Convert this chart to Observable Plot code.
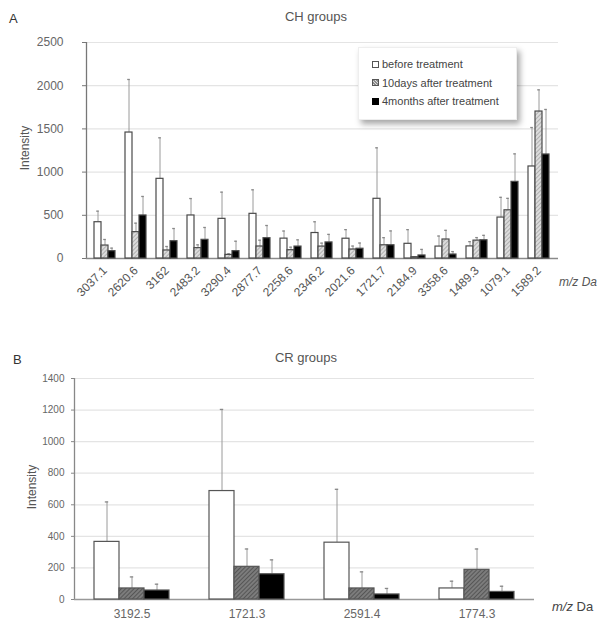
<!DOCTYPE html>
<html><head><meta charset="utf-8">
<script src="https://cdn.jsdelivr.net/npm/d3@7"></script>
<script src="https://cdn.jsdelivr.net/npm/@observablehq/plot@0.6"></script>
<style>
body{margin:0;background:#fff;font-family:"Liberation Sans",Arial,sans-serif;}
#wrap{position:relative;width:612px;height:628px;overflow:hidden;background:#fff;}
#wrap svg{position:absolute;left:0;}
.t{position:absolute;color:#444;white-space:nowrap;line-height:1;}
.legend{position:absolute;left:358px;top:47px;width:157px;height:71px;background:#fff;border:1px solid #eee;box-shadow:3px 4px 6px rgba(0,0,0,0.35);font-size:11px;color:#444;}
.legend .row{position:absolute;left:13px;height:12px;line-height:12px;}
.legend .sw{display:inline-block;width:7px;height:7px;border:1px solid #555;vertical-align:middle;margin-right:3px;margin-top:-2px;box-sizing:border-box;}
</style></head><body>
<div id="wrap"></div>
<script>
// ---------- data ----------
const series = ["before treatment", "10days after treatment", "4months after treatment"];

const catsA = ["3037.1","2620.6","3162","2483.2","3290.4","2877.7","2258.6","2346.2","2021.6","1721.7","2184.9","3358.6","1489.3","1079.1","1589.2"];
const beforeA = [420,1458,922,498,459,517,230,295,229,691,170,138,140,474,1065];
const beforeSdA = [128,614,475,196,309,278,88,130,105,590,164,122,55,234,451];
const tenDaysA = [150,305,93,120,42,139,96,138,104,153,15,220,207,558,1701];
const tenDaysSdA = [70,104,46,38,12,73,35,40,40,88,0,106,35,138,251];
const fourMonthsA = [85,498,200,216,85,235,138,186,113,153,35,46,211,887,1204];
const fourMonthsSdA = [35,220,147,143,115,147,78,93,66,166,70,34,57,324,521];
const yTicksA = [0,500,1000,1500,2000,2500];

const catsB = ["3192.5","1721.3","2591.4","1774.3"];
const beforeB = [365,687,360,70];
const beforeSdB = [253,517,338,46];
const tenDaysB = [70,207,70,188];
const tenDaysSdB = [73,113,105,132];
const fourMonthsB = [57,160,32,48];
const fourMonthsSdB = [40,91,38,36];
const yTicksB = [0,200,400,600,800,1000,1200,1400];

// ---------- build tables ----------
function table(cats, vals, sds) {
  return cats.flatMap((c, i) => series.map((s, j) => ({cat: c, series: s, value: vals[j][i], sd: sds[j][i]})));
}
const dataA = table(catsA, [beforeA, tenDaysA, fourMonthsA], [beforeSdA, tenDaysSdA, fourMonthsSdA]);
const dataB = table(catsB, [beforeB, tenDaysB, fourMonthsB], [beforeSdB, tenDaysSdB, fourMonthsSdB]);

const fillsA = {"before treatment": "#ffffff", "10days after treatment": "url(#hatchA)", "4months after treatment": "#000000"};
const fillsB = {"before treatment": "#ffffff", "10days after treatment": "url(#hatchB)", "4months after treatment": "#000000"};

const wrap = document.getElementById("wrap");
const font = '"Liberation Sans", Arial, sans-serif';

function addPattern(svg, id, bg, line, size, lw) {
  let defs = d3.select(svg).select("defs");
  if (defs.empty()) defs = d3.select(svg).insert("defs", ":first-child");
  const p = defs.append("pattern").attr("id", id).attr("patternUnits", "userSpaceOnUse")
    .attr("width", size).attr("height", size).attr("patternTransform", "rotate(45)");
  p.append("rect").attr("width", size).attr("height", size).attr("fill", bg);
  p.append("line").attr("x1", 0).attr("y1", 0).attr("x2", 0).attr("y2", size)
    .attr("stroke", line).attr("stroke-width", lw);
}

function panel(opts) {
  const {data, cats, fills, yTicks, ymax, top, height, mt, mb, ml, mr, pin, pout,
         tickFont, xFont, xColor, barStroke, capInset, yTickSize, yTickPad, xTickPad, rotate, axisColor, baseColor, patternId, pat} = opts;
  // background: grid, axis, baseline
  const bg = Plot.plot({
    width: 612, height, marginTop: mt, marginBottom: mb, marginLeft: ml, marginRight: mr,
    style: {background: "transparent", fontFamily: font, fontSize: tickFont + "px", color: "#666"},
    x: {domain: [0, 1], axis: null},
    y: {domain: [0, ymax], axis: null},
    marks: [
      Plot.ruleY(yTicks.filter(d => d > 0), {stroke: "#e4e4e4", strokeWidth: 1.2}),
      Plot.axisY({ticks: yTicks, tickSize: yTickSize, tickPadding: yTickPad, tickFormat: d => String(d), label: null, stroke: axisColor, fill: "#666"}),
      Plot.ruleX([0], {y1: 0, y2: ymax, stroke: axisColor, strokeWidth: 1.3}),
      Plot.ruleY([0], {stroke: baseColor, strokeWidth: 1.5})
    ]
  });
  bg.style.top = top + "px";
  wrap.appendChild(bg);
  // foreground: grouped bars with error bars
  const fg = Plot.plot({
    width: 612, height, marginTop: mt, marginBottom: mb, marginLeft: ml, marginRight: mr,
    style: {background: "transparent", fontFamily: font, fontSize: xFont + "px", color: xColor},
    fx: {domain: cats, paddingInner: pin, paddingOuter: pout, label: null, axis: "bottom", tickSize: 0, tickPadding: xTickPad, tickRotate: rotate},
    x: {domain: series, padding: 0, axis: null},
    y: {domain: [0, ymax], axis: null},
    color: {type: "identity"},
    marks: [
      Plot.ruleX(data, {fx: "cat", x: "series", y1: "value", y2: d => d.value + d.sd, stroke: "#9a9a9a", strokeWidth: 1}),
      Plot.tickY(data, {fx: "cat", x: "series", y: d => d.value + d.sd, stroke: "#888", strokeWidth: 1.3, insetLeft: capInset, insetRight: capInset}),
      Plot.barY(data, {fx: "cat", x: "series", y: "value", fill: d => fills[d.series], stroke: barStroke, strokeWidth: 1.2})
    ]
  });
  addPattern(fg, patternId, pat[0], pat[1], pat[2], pat[3]);
  fg.style.top = top + "px";
  wrap.appendChild(fg);
}

panel({data: dataA, cats: catsA, fills: fillsA, yTicks: yTicksA, ymax: 2500, top: 0, height: 300,
  mt: 42, mb: 42, ml: 86, mr: 54, pin: 0.31, pout: 0.155, tickFont: 12, xFont: 12, xColor: "#555",
  barStroke: "#4a4a4a", capInset: 2.2, yTickSize: 4, yTickPad: 19, xTickPad: 10, rotate: -45,
  axisColor: "#777", baseColor: "#8a8a8a", patternId: "hatchA", pat: ["#dcdcdc", "#8c8c8c", 3, 1.1]});

panel({data: dataB, cats: catsB, fills: fillsB, yTicks: yTicksB, ymax: 1400, top: 300, height: 328,
  mt: 78, mb: 29, ml: 74, mr: 78, pin: 0.33, pout: 0.165, tickFont: 10, xFont: 12, xColor: "#666",
  barStroke: "#555", capInset: 10.8, yTickSize: 3, yTickPad: 7, xTickPad: 10, rotate: 0,
  axisColor: "#888", baseColor: "#999", patternId: "hatchB", pat: ["#7c7c7c", "#3c3c3c", 3, 1.2]});

// ---------- text ----------
function text(str, left, top, size, extra) {
  const d = document.createElement("div");
  d.className = "t";
  d.innerHTML = str;
  d.style.left = left + "px";
  d.style.top = top + "px";
  d.style.fontSize = size + "px";
  if (extra) Object.assign(d.style, extra);
  wrap.appendChild(d);
  return d;
}
text("A", 9, 12, 13, {color: "#333"});
text("CH groups", 216, 10, 13, {width: "200px", textAlign: "center", color: "#555"});
text("Intensity", -5, 142, 12, {width: "60px", textAlign: "center", transform: "rotate(-90deg)", color: "#555"});
text("<i>m/z Da</i>", 559, 276, 12, {color: "#555"});
text("B", 13, 353, 13, {color: "#333"});
text("CR groups", 206, 351, 13, {width: "200px", textAlign: "center", color: "#555"});
text("Intensity", 2, 481, 12, {width: "60px", textAlign: "center", transform: "rotate(-90deg)", color: "#555"});
text("<i>m/z</i> Da", 552, 600, 13, {color: "#444"});

// ---------- legend ----------
const lg = document.createElement("div");
lg.className = "legend";
const swStyles = [
  "background:#fff",
  "background:repeating-linear-gradient(45deg,#dcdcdc 0 1.2px,#8c8c8c 1.2px 2.2px)",
  "background:#000;border-color:#000"
];
series.forEach((s, i) => {
  const r = document.createElement("div");
  r.className = "row";
  r.style.top = (10 + i * 18.5) + "px";
  r.innerHTML = `<span class="sw" style="${swStyles[i]}"></span>${s}`;
  lg.appendChild(r);
});
wrap.appendChild(lg);
</script>
</body></html>
